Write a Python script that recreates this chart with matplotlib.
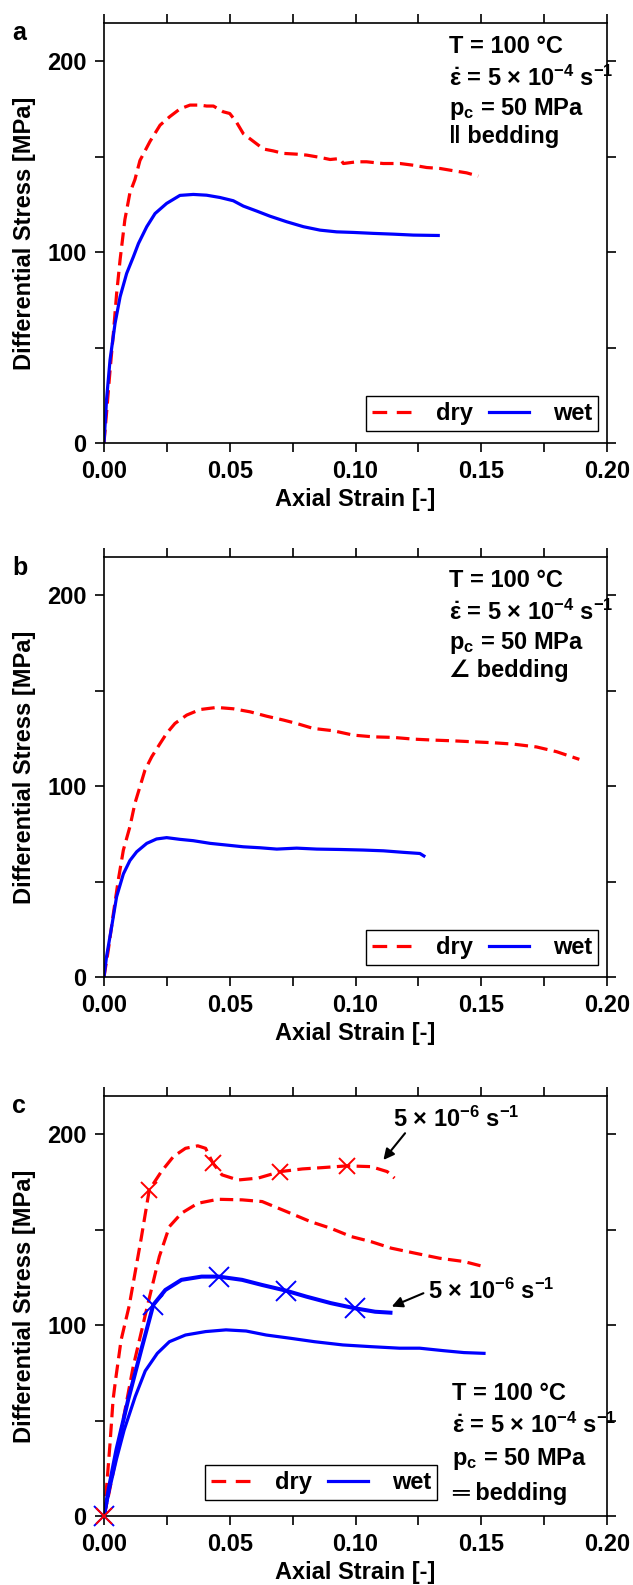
import matplotlib
matplotlib.use("Agg")
import matplotlib.pyplot as plt
from matplotlib.ticker import MultipleLocator, FormatStrFormatter

plt.rcParams['font.family'] = ['Liberation Sans', 'DejaVu Sans']
plt.rcParams['font.weight'] = 'bold'
plt.rcParams['mathtext.fontset'] = 'custom'
plt.rcParams['mathtext.rm'] = 'Liberation Sans:bold'
plt.rcParams['mathtext.it'] = 'Liberation Sans:bold'
plt.rcParams['mathtext.bf'] = 'Liberation Sans:bold'

# ---- panel a (|| bedding) ----
a_dry_x = [0, 0.001, 0.0024, 0.0037, 0.005, 0.0064, 0.0083, 0.0103, 0.0123,
           0.0143, 0.0183, 0.0223, 0.0262, 0.0302, 0.0342, 0.0382, 0.0408,
           0.0435, 0.0474, 0.05, 0.0527, 0.0554, 0.0594, 0.0634, 0.0673,
           0.0713, 0.0766, 0.0806, 0.0859, 0.0899, 0.0938, 0.0952, 0.1005,
           0.1044, 0.111, 0.1177, 0.123, 0.1283, 0.1336, 0.139, 0.1442, 0.1488]
a_dry_y = [0, 15.5, 38, 57, 78, 96, 117, 131, 138, 148, 158, 166.5, 171, 175,
           177, 177, 176.5, 176.5, 173.5, 172.6, 168, 162, 158, 154, 153,
           151.7, 151.3, 150.8, 149.6, 148.5, 149, 146.4, 147.3, 147.3, 146.4,
           146.4, 145.5, 144.3, 143.8, 142.6, 141.5, 139.8]
a_wet_x = [0, 0.001, 0.0024, 0.0044, 0.0064, 0.009, 0.0117, 0.0137, 0.017,
           0.0203, 0.0249, 0.0302, 0.0355, 0.0408, 0.0461, 0.0514, 0.0554,
           0.0607, 0.066, 0.0726, 0.0793, 0.0859, 0.0925, 0.0991, 0.1071,
           0.115, 0.123, 0.1329]
a_wet_y = [0, 22.5, 43.5, 62.7, 76.6, 88.8, 97.6, 104.5, 113.3, 120.2, 125.5,
           129.7, 130.2, 129.8, 128.6, 126.9, 124.1, 121.5, 118.8, 115.9,
           113.3, 111.5, 110.6, 110.3, 109.8, 109.4, 108.9, 108.7]

# ---- panel b (angled bedding) ----
b_dry_x = [0, 0.0017, 0.0037, 0.0057, 0.0077, 0.0103, 0.0123, 0.0143, 0.0163,
           0.019, 0.0223, 0.0249, 0.0282, 0.0329, 0.0382, 0.0448, 0.0514,
           0.0581, 0.0647, 0.0713, 0.0766, 0.0832, 0.0911, 0.0991, 0.107,
           0.115, 0.123, 0.1309, 0.1389, 0.1468, 0.1548, 0.1627, 0.172,
           0.18, 0.189]
b_dry_y = [0, 14, 33, 51, 66.5, 78.7, 91, 99.7, 108.4, 115.4, 122.3, 127.6,
           132.8, 137.2, 140.1, 141.2, 140.5, 138.9, 136.6, 134.6, 132.8,
           130.2, 129, 126.7, 125.8, 125.5, 124.6, 124.1, 123.7, 123.2,
           122.7, 122, 120.5, 118, 114]
b_wet_x = [0, 0.001, 0.003, 0.005, 0.0077, 0.0103, 0.013, 0.017, 0.0209,
           0.0249, 0.0302, 0.0355, 0.0422, 0.0488, 0.0554, 0.062, 0.0687,
           0.0766, 0.0846, 0.0938, 0.1031, 0.1111, 0.119, 0.1256, 0.1272]
b_wet_y = [0, 10.6, 26, 42, 54, 61, 65.6, 70, 72.3, 73, 72.1, 71.4, 70, 69.1,
           68.2, 67.7, 67, 67.5, 67, 66.8, 66.5, 66.1, 65.3, 64.7, 63.4]

# ---- panel c (= bedding), fast (5e-4) and slow (5e-6) runs ----
c_dry_x = [0, 0.002, 0.005, 0.008, 0.0116, 0.0172, 0.022, 0.026, 0.0308,
           0.0373, 0.0453, 0.0549, 0.0629, 0.0725, 0.0821, 0.0902, 0.0982,
           0.1062, 0.1142, 0.1239, 0.1335, 0.1431, 0.1511]
c_dry_y = [0, 12, 32, 53, 78.2, 109.7, 135.9, 151.6, 158.6, 163.8, 165.9,
           165.6, 164.7, 159.5, 154.2, 150.7, 146.4, 143.7, 140.3, 137.6,
           135, 133.3, 130.6]
c_dry_slow_x = [0, 0.0012, 0.0024, 0.0036, 0.0046, 0.0068, 0.01, 0.0148,
                0.018, 0.0228, 0.0276, 0.0324, 0.0373, 0.0404, 0.0433, 0.0469,
                0.0533, 0.0613, 0.0701, 0.0789, 0.087, 0.0966, 0.1062,
                0.1126, 0.1155]
c_dry_slow_y = [0, 18, 38, 60.8, 71.3, 92.2, 110, 145.5, 170.8, 180.4, 188.3,
                192.6, 193.9, 192.6, 184.8, 178.7, 176, 177, 180.4, 181.8,
                182.5, 183.4, 183, 180.4, 177]
c_wet_x = [0, 0.002, 0.005, 0.008, 0.0124, 0.0164, 0.0212, 0.026, 0.0324,
           0.0404, 0.0485, 0.0565, 0.0645, 0.0741, 0.0837, 0.095, 0.1062,
           0.1175, 0.1255, 0.135, 0.1431, 0.1511]
c_wet_y = [0, 13, 30, 45, 62.5, 76, 85.2, 91.3, 94.8, 96.6, 97.5, 96.9,
           94.8, 93.1, 91.3, 89.6, 88.7, 87.9, 87.9, 86.6, 85.6, 85.2]
c_wet_slow_x = [0, 0.002, 0.005, 0.0096, 0.0148, 0.0196, 0.0244, 0.0308,
                0.0388, 0.0456, 0.0549, 0.0629, 0.0722, 0.0805, 0.0902,
                0.0998, 0.1078, 0.1139]
c_wet_slow_y = [0, 15, 35, 60.8, 87, 110.6, 118.4, 123.7, 125.4, 125.4,
                123.7, 121, 118.1, 114.9, 111.5, 108.8, 107, 106.5]

# cross markers on the slow runs
c_dry_mark_x = [0, 0.018, 0.0433, 0.0701, 0.0966]
c_dry_mark_y = [0, 170.8, 184.8, 180.4, 183.4]
c_wet_mark_x = [0, 0.0196, 0.0456, 0.0722, 0.0998]
c_wet_mark_y = [0, 110.6, 125.4, 118.1, 108.8]

cond_lines = ['T = 100 °C',
              r'$\dot{\varepsilon}$ = 5 × 10$^{-4}$ s$^{-1}$',
              r'p$_{\rm c}$ = 50 MPa']
bedding_labels = ['‖ bedding', '∠ bedding', '═ bedding']
panel_letters = ['a', 'b', 'c']
slow_rate = r'5 × 10$^{-6}$ s$^{-1}$'

FS = 17
LW = 2.3
DASH = (4.2, 2.0)

fig = plt.figure(figsize=(6.33, 15.85), dpi=100)
left, width, height = 104 / 633, 503 / 633, 420 / 1585
bottoms = [1 - 443 / 1585, 1 - 977 / 1585, 1 - 1516 / 1585]
axes = [fig.add_axes([left, b, width, height]) for b in bottoms]


def style_axes(ax):
    ax.set_xlim(0, 0.2)
    ax.set_ylim(0, 220)
    ax.xaxis.set_major_locator(MultipleLocator(0.05))
    ax.xaxis.set_minor_locator(MultipleLocator(0.025))
    ax.xaxis.set_major_formatter(FormatStrFormatter('%.2f'))
    ax.yaxis.set_major_locator(MultipleLocator(100))
    ax.yaxis.set_minor_locator(MultipleLocator(50))
    ax.tick_params(which='both', direction='out', length=6.5, width=1.2,
                   top=True, right=True, labelsize=FS, pad=6)
    for sp in ax.spines.values():
        sp.set_linewidth(1.2)
    ax.set_xlabel('Axial Strain [-]', fontsize=FS, fontweight='bold')
    ax.set_ylabel('Differential Stress [MPa]', fontsize=FS, fontweight='bold')
    ax.xaxis.set_label_coords(0.5, -0.108)
    ax.yaxis.set_label_coords(-0.135, 0.5)


data = [(a_dry_x, a_dry_y, a_wet_x, a_wet_y),
        (b_dry_x, b_dry_y, b_wet_x, b_wet_y),
        (c_dry_x, c_dry_y, c_wet_x, c_wet_y)]

for i, ax in enumerate(axes):
    dx, dy, wx, wy = data[i]
    ax.plot(dx, dy, color='red', lw=LW, dashes=DASH, label='dry')
    ax.plot(wx, wy, color='blue', lw=LW, label='wet')
    style_axes(ax)
    fig.text(12 / 633, 1 - [40, 575, 1113][i] / 1585, panel_letters[i],
             fontsize=18, fontweight='bold', va='baseline')

    # condition text block
    if i < 2:
        ys = [204.3, 187, 171.8, 157.2]
        xt = 0.137
    else:
        ys = [60.7, 43.5, 26.7, 8.4]
        xt = 0.1384
    for txt, y in zip(cond_lines + [bedding_labels[i]], ys):
        ax.text(xt, y, txt, fontsize=FS, fontweight='bold', va='baseline')

    # legend
    kw = dict(ncol=2, fontsize=FS, frameon=True, fancybox=False,
              edgecolor='black', framealpha=1, handlelength=1.7,
              handletextpad=1.0, columnspacing=0.7, borderpad=0.25,
              borderaxespad=0)
    if i < 2:
        leg = ax.legend(loc='lower right', bbox_to_anchor=(0.982, 0.029), **kw)
    else:
        leg = ax.legend(loc='lower left', bbox_to_anchor=(0.2008, 0.038), **kw)
    leg.get_frame().set_linewidth(1.0)
    # two clean dashes in the legend sample
    leg.get_lines()[0].set_dashes((4.6, 3.0))

# slow strain rate runs in panel c
axc = axes[2]
axc.plot(c_dry_slow_x, c_dry_slow_y, color='red', lw=LW, dashes=DASH)
axc.plot(c_wet_slow_x, c_wet_slow_y, color='blue', lw=LW + 0.6)
axc.plot(c_wet_mark_x, c_wet_mark_y, ls='none', marker='x', ms=15,
         mew=1.4, color='blue', zorder=4, clip_on=False)
axc.plot(c_dry_mark_x, c_dry_mark_y, ls='none', marker='x', ms=11,
         mew=1.4, color='red', zorder=5, clip_on=False)

axc.annotate('', xy=(0.1111, 186.5), xytext=(0.1197, 200.5),
             arrowprops=dict(arrowstyle='-|>', color='black', lw=1.5,
                             mutation_scale=16, shrinkA=0, shrinkB=0))
axc.text(0.115, 204, slow_rate, fontsize=FS, fontweight='bold',
         va='baseline')
axc.annotate('', xy=(0.1144, 109.7), xytext=(0.127, 116.7),
             arrowprops=dict(arrowstyle='-|>', color='black', lw=1.5,
                             mutation_scale=16, shrinkA=0, shrinkB=0))
axc.text(0.129, 113.5, slow_rate, fontsize=FS, fontweight='bold',
         va='baseline')

fig.savefig('out.png', dpi=100)
